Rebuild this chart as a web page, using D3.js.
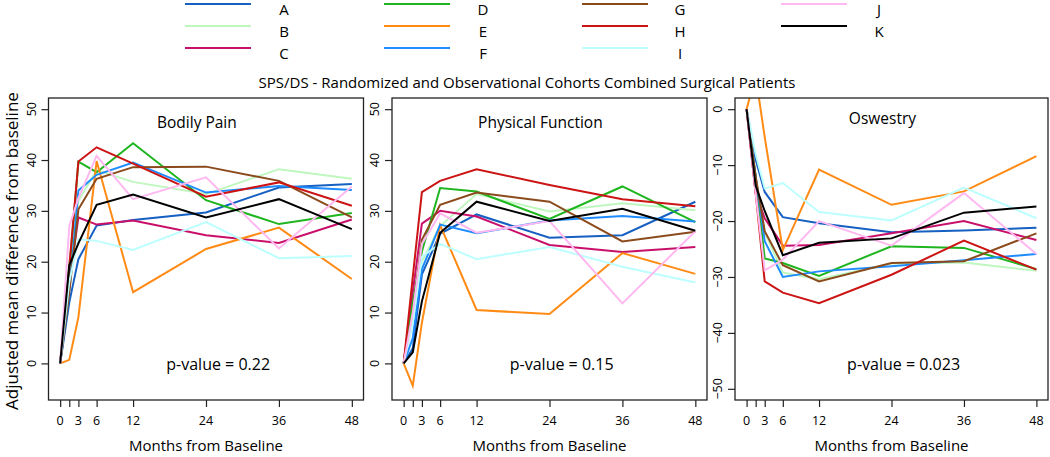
<!DOCTYPE html>
<html>
<head>
<meta charset="utf-8">
<script src="https://cdn.jsdelivr.net/npm/d3@7"></script>
<style>
  html, body { margin: 0; padding: 0; background: #fff; }
  svg { display: block; }
  text { font-family: "Open Sans", "Liberation Sans", sans-serif; fill: #000; }
</style>
</head>
<body>
<svg id="chart" width="1050" height="457"></svg>
<script>
// ---------- data ----------
const months = [0, 1.5, 3, 6, 12, 24, 36, 48];
const xTickValues = [0, 1.5, 3, 6, 12, 24, 36, 48];
const xTickLabels = ["0", "", "3", "6", "12", "24", "36", "48"];
const seriesNames = ["A", "B", "C", "D", "E", "F", "G", "H", "I", "J", "K"];
const seriesColors = ["#1660c2", "#bff7bf", "#c8106a", "#1fb51f", "#ff8a14", "#1e8cff",
                      "#8b4a1c", "#cc1414", "#bdffff", "#ffb8f0", "#000000"];
const panelTitles = ["Bodily Pain", "Physical Function", "Oswestry"];
const pValues = ["p-value = 0.22", "p-value = 0.15", "p-value = 0.023"];
const yTicksPos = [0, 10, 20, 30, 40, 50];
const yTicksNeg = [0, -10, -20, -30, -40, -50];

// Bodily Pain: one row per series A..K, values at months
const bodilyPain = [
  [0, 12, 20.5, 27.1, 28.2, 29.7, 34.6, 35.3],
  [0, 20, 32, 38.0, 35.7, 33.3, 38.2, 36.3],
  [0, 16, 28.7, 27.3, 28.1, 25.2, 23.7, 28.3],
  [0, 18, 39.7, 37.6, 43.3, 32.1, 27.4, 29.6],
  [0, 0.7, 9.1, 39.8, 14.0, 22.5, 26.7, 16.6],
  [0, 14, 34, 37.1, 39.5, 33.6, 34.9, 34.1],
  [0, 14, 30.3, 36.3, 38.6, 38.7, 35.9, 28.7],
  [0, 19, 39.7, 42.5, 39.3, 32.8, 35.6, 31.0],
  [0, 16, 24.4, 24.1, 22.3, 27.8, 20.7, 21.1],
  [0, 27, 32.5, 40.8, 32.3, 36.6, 22.6, 34.8],
  [0, 19.3, 23.6, 31.2, 33.2, 28.7, 32.3, 26.4]
];
// Physical Function
const physicalFunction = [
  [0, 3, 17.5, 25.5, 29.3, 24.7, 25.2, 31.8],
  [0, 8, 20, 27, 33.3, 29.9, 31.5, 30.1],
  [0, 14, 27.5, 30.0, 28.9, 23.3, 21.9, 22.9],
  [0, 12, 22, 34.5, 33.8, 28.4, 34.8, 27.8],
  [0, -4.4, 8, 27.2, 10.5, 9.7, 21.7, 17.6],
  [0, 5, 18.5, 27.3, 25.6, 28.1, 29.0, 27.9],
  [0, 10, 24.3, 31.2, 33.6, 31.8, 24.0, 25.9],
  [0, 17, 33.7, 35.9, 38.2, 35.1, 32.3, 30.9],
  [0, 8, 21, 23.5, 20.5, 22.9, 19.0, 15.9],
  [0, 10, 23.5, 29.5, 25.7, 28.0, 11.8, 26.0],
  [0, 2.2, 12.2, 25.7, 31.8, 28.0, 30.4, 26.1]
];
// Oswestry
const oswestry = [
  [0, -9, -14.8, -19.3, -20.4, -22.0, -21.7, -21.2],
  [0, -12, -22, -29.2, -30.4, -27.6, -27.4, -28.9],
  [0, -15, -19.5, -24.4, -24.3, -22.2, -20.0, -23.4],
  [0, -12, -26.7, -27.5, -29.8, -24.5, -24.8, -28.6],
  [0, 6, -5, -25.2, -10.8, -17.1, -14.7, -8.4],
  [0, -12, -23.6, -30.0, -29.0, -28.1, -27.0, -25.9],
  [0, -12, -21.8, -27.9, -30.8, -27.5, -27.2, -22.2],
  [0, -15, -30.8, -32.8, -34.7, -29.6, -23.5, -28.7],
  [0, -8, -14.2, -13.2, -18.4, -19.9, -14.0, -19.5],
  [0, -15, -28.8, -26.9, -20.0, -24.4, -15.0, -25.9],
  [0, -13.7, -18.2, -26.1, -23.9, -23.1, -18.5, -17.4]
];

// ---------- layout ----------
const svg = d3.select("#chart");
const plotTop = 98, plotBottom = 400;
const panels = [
  { left: 48.5, right: 363.5, data: bodilyPain, ylim: [-5, 50], ticks: yTicksPos },
  { left: 392, right: 707, data: physicalFunction, ylim: [-5, 50], ticks: yTicksPos },
  { left: 735, right: 1048, data: oswestry, ylim: [-50, 0], ticks: yTicksNeg }
];
const pad = (a) => { const d = (a[1] - a[0]) * 0.04; return [a[0] - d, a[1] + d]; };

// Legend
const legendCols = [
  { x1: 185, x2: 251, tx: 284 },
  { x1: 384, x2: 450, tx: 483 },
  { x1: 582, x2: 648, tx: 680 },
  { x1: 781, x2: 847, tx: 879 }
];
const legendRowY = [4, 26, 48];
const lg = svg.append("g");
seriesNames.forEach((n, i) => {
  const c = legendCols[Math.floor(i / 3)], y = legendRowY[i % 3];
  lg.append("line").attr("x1", c.x1).attr("x2", c.x2).attr("y1", y).attr("y2", y)
    .attr("stroke", seriesColors[i]).attr("stroke-width", 2.2);
  lg.append("text").attr("x", c.tx).attr("y", y + 11).attr("dominant-baseline", "alphabetic")
    .attr("text-anchor", "middle").style("font-size", "15px").text(n);
});

svg.append("text").attr("x", 527).attr("y", 84).attr("text-anchor", "middle")
  .attr("dominant-baseline", "middle").style("font-size", "15px")
  .text("SPS/DS - Randomized and Observational Cohorts Combined Surgical Patients");

svg.append("text").attr("transform", "translate(13," + ((plotTop + plotBottom) / 2 + 2) + ") rotate(-90)")
  .attr("text-anchor", "middle").attr("dominant-baseline", "middle").style("font-size", "17px")
  .text("Adjusted mean difference from baseline");

panels.forEach((p, pi) => {
  const x = d3.scaleLinear().domain(pad([0, 48])).range([p.left, p.right]);
  const y = d3.scaleLinear().domain(pad(p.ylim)).range([plotBottom, plotTop]);
  const g = svg.append("g");

  const clipId = "clip" + pi;
  svg.append("clipPath").attr("id", clipId).append("rect")
    .attr("x", p.left).attr("y", plotTop).attr("width", p.right - p.left).attr("height", plotBottom - plotTop);

  const line = d3.line().x((d, i) => x(months[i])).y(d => y(d));
  const lines = g.append("g").attr("clip-path", "url(#" + clipId + ")");
  p.data.forEach((vals, si) => {
    lines.append("path").attr("d", line(vals)).attr("fill", "none")
      .attr("stroke", seriesColors[si]).attr("stroke-width", 2)
      .attr("stroke-linejoin", "miter").attr("stroke-linecap", "butt");
  });

  // box
  g.append("rect").attr("x", p.left).attr("y", plotTop).attr("width", p.right - p.left)
    .attr("height", plotBottom - plotTop).attr("fill", "none").attr("stroke", "#222").attr("stroke-width", 1.3);

  // x axis
  const xa = g.append("g").attr("transform", "translate(0," + plotBottom + ")")
    .call(d3.axisBottom(x).tickValues(xTickValues).tickSize(7).tickSizeOuter(0).tickFormat(() => ""));
  xa.select(".domain").remove();
  xa.selectAll("line").attr("stroke", "#222").attr("stroke-width", 1.2);
  xTickValues.forEach((v, i) => {
    if (!xTickLabels[i]) return;
    g.append("text").attr("x", x(v)).attr("y", 422).attr("text-anchor", "middle")
      .attr("dominant-baseline", "middle").style("font-size", "12.5px").text(xTickLabels[i]);
  });
  g.append("text").attr("x", (p.left + p.right) / 2).attr("y", 447).attr("text-anchor", "middle")
    .attr("dominant-baseline", "middle").style("font-size", "15px").text("Months from Baseline");

  // y axis
  const ya = g.append("g").attr("transform", "translate(" + p.left + ",0)")
    .call(d3.axisLeft(y).tickValues(p.ticks).tickSize(7).tickSizeOuter(0).tickFormat(() => ""));
  ya.select(".domain").remove();
  ya.selectAll("line").attr("stroke", "#222").attr("stroke-width", 1.2);
  p.ticks.forEach(v => {
    g.append("text").attr("transform", "translate(" + (p.left - 16) + "," + y(v) + ") rotate(-90)")
      .attr("text-anchor", "middle").attr("dominant-baseline", "middle")
      .style("font-size", "12.5px").text(d3.format("d")(v));
  });

  // annotations
  const titleY = [124, 124, 120][pi];
  g.append("text").attr("x", x(22.5)).attr("y", titleY).attr("text-anchor", "middle")
    .attr("dominant-baseline", "middle").style("font-size", "15.5px").text(panelTitles[pi]);
  g.append("text").attr("x", x(26)).attr("y", 366).attr("text-anchor", "middle")
    .attr("dominant-baseline", "middle").style("font-size", "16px").text(pValues[pi]);
});
</script>
</body>
</html>
